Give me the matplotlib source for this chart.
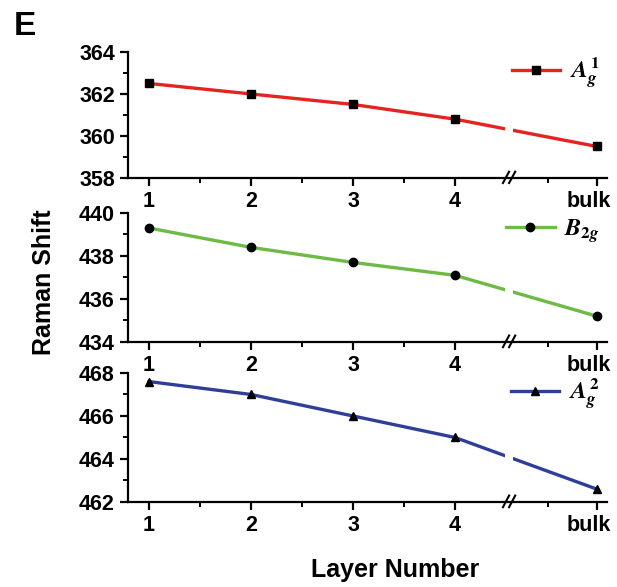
import matplotlib
matplotlib.use('Agg')
import matplotlib.pyplot as plt
import matplotlib.transforms as mtransforms
from matplotlib.ticker import FixedLocator

# Данные
layers = ['1', '2', '3', '4', 'bulk']
layer_pos = [1, 2, 3, 4, 5.39]  # bulk стоит после разрыва оси
a1g = [362.5, 362.0, 361.5, 360.8, 359.5]
b2g = [439.3, 438.4, 437.7, 437.1, 435.2]
a2g = [467.6, 467.0, 466.0, 465.0, 462.6]
labels = [r'$A_g^1$', r'$B_{2g}$', r'$A_g^2$']
ylims = [(358, 364), (434, 440), (462, 468)]
colors = ['#e52421', '#6dbb45', '#2f3f98']
markers = ['s', 'o', '^']

plt.rcParams['font.family'] = ['Liberation Sans', 'DejaVu Sans']
plt.rcParams['font.weight'] = 'bold'
plt.rcParams['mathtext.fontset'] = 'stix'


def draw_panel(fig, bottom, height, values, label, ylim, color, marker):
    ax = fig.add_axes([0.2075, bottom, 0.7763, height])
    ax.plot(layer_pos, values, color=color, lw=2.4, zorder=2, label=label,
            marker=marker, ms=6, mfc='black', mec='black')
    # разрыв линии
    ax.axvspan(4.49, 4.57, ymin=0.02, ymax=0.98, color='white', lw=0, zorder=2.5)
    for sp in ['top', 'right']:
        ax.spines[sp].set_visible(False)
    for sp in ['left', 'bottom']:
        ax.spines[sp].set_linewidth(1.6)
    ax.set_xlim(0.794, 5.49)
    ax.set_ylim(*ylim)
    ax.set_xticks(layer_pos)
    ax.set_xticklabels(layers)
    ax.xaxis.set_minor_locator(FixedLocator([1.5, 2.5, 3.5, 4.91]))
    ax.set_yticks(range(ylim[0], ylim[1] + 1, 2))
    ax.yaxis.set_minor_locator(FixedLocator(range(ylim[0] + 1, ylim[1], 2)))
    ax.tick_params(which='major', length=6, width=1.6, labelsize=15.5, pad=3.5)
    ax.tick_params(which='minor', length=3.5, width=1.4)
    for t in ax.get_xticklabels() + ax.get_yticklabels():
        t.set_fontweight('bold')
    # сдвигаем подпись bulk влево, как на рисунке
    bulk = ax.get_xticklabels()[-1]
    bulk.set_transform(bulk.get_transform() +
                       mtransforms.ScaledTranslation(-6 / 72, 0, fig.dpi_scale_trans))
    # значок разрыва на оси //
    tr = ax.get_xaxis_transform()
    for x0 in [4.50, 4.56]:
        ax.plot([x0 - 0.03, x0 + 0.03], [-0.04, 0.05], color='black', lw=1.5,
                transform=tr, clip_on=False, zorder=5)
    ax.legend(loc='upper right', bbox_to_anchor=(0.985, 0.97), frameon=False,
              fontsize=17.5, handlelength=2.0, handletextpad=0.4,
              borderpad=0, borderaxespad=0)
    return ax


def main():
    fig = plt.figure(figsize=(6.17, 5.87), dpi=100)
    bottoms = [0.6968, 0.4174, 0.1448]
    heights = [0.2147, 0.2198, 0.2198]
    series = [a1g, b2g, a2g]
    for i in range(3):
        draw_panel(fig, bottoms[i], heights[i], series[i], labels[i], ylims[i],
                   colors[i], markers[i])
    fig.text(0.04, 0.955, 'E', fontsize=24, fontweight='bold', ha='center', va='center')
    fig.text(0.072, 0.52, 'Raman Shift', fontsize=18, fontweight='bold',
             rotation=90, ha='center', va='center')
    fig.text(0.64, 0.029, 'Layer Number', fontsize=18, fontweight='bold',
             ha='center', va='center')
    fig.savefig('out.png', dpi=100)


if __name__ == '__main__':
    main()
